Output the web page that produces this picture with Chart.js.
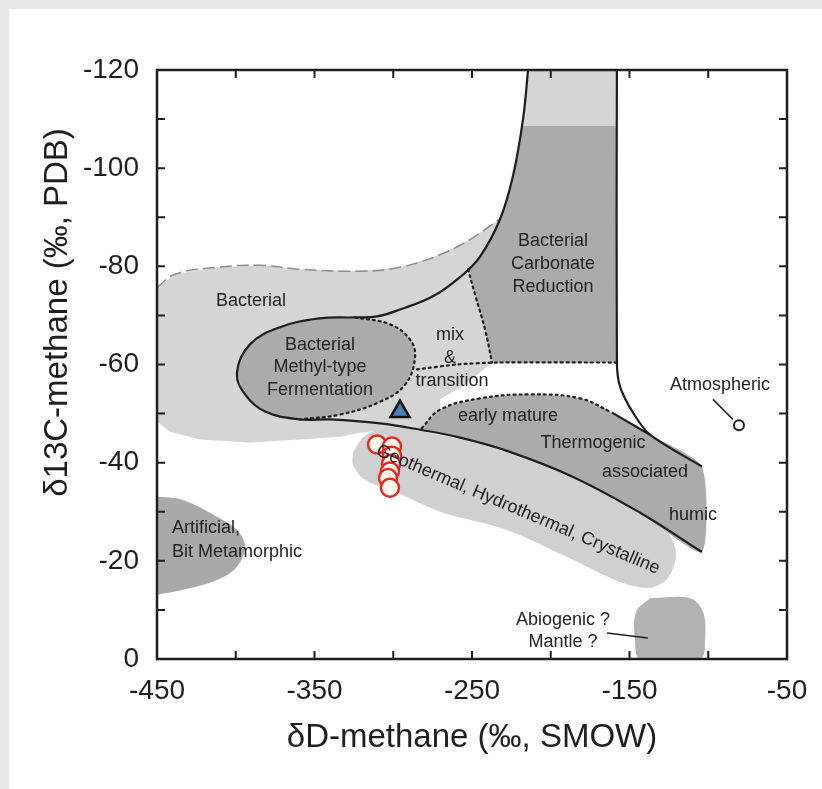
<!DOCTYPE html>
<html>
<head>
<meta charset="utf-8">
<script src="https://cdn.jsdelivr.net/npm/chart.js@4.4.1/dist/chart.umd.min.js"></script>
<style>
    html, body { margin: 0; padding: 0; background: #e4e7e6; }
    #sheet { position: absolute; left: 9px; top: 9px; right: 0; bottom: 0; background: #fff; }
    #wrap { position: absolute; left: 0; top: 0; width: 822px; height: 789px; }
</style>
</head>
<body>
<div id="sheet"></div>
<div id="wrap"><canvas id="chart" width="822" height="789"></canvas></div>
<script>
/* global Chart */

const FONT = "'Liberation Sans', Arial, Helvetica, sans-serif";
const INK = '#1e1e1e';
const LIGHT = '#d5d5d5';
const DARK = '#ababab';

// axis ticks
const X_TICKS = [-450, -350, -250, -150, -50];
const Y_TICKS = [-120, -100, -80, -60, -40, -20, 0];
const Y_TITLE = 'δ13C-methane (‰, PDB)';
const X_TITLE = 'δD-methane (‰, SMOW)';

// shaded fields, [δD, δ13C]
const bacterialArea = [[-450,-75.7],[-438.6,-78.4],[-411.9,-79.8],[-384.6,-80.2],[-359,-79.4],[-321,-79],[-295.7,-79.8],
    [-270,-82.4],[-251,-85.5],[-233,-89.5],[-228,-94],[-224,-98.4],[-220.5,-104],[-217.6,-110],[-216,-115],[-214.4,-120],
    [-158,-120],[-158,-60.4],[-237.3,-60.4],[-254,-56],[-270.3,-52.9],[-270.3,-50.8],[-283,-46.7],[-308.4,-46.5],
    [-321,-46.1],[-333.8,-45.3],[-359.2,-44.7],[-390.9,-44.1],[-422.7,-44.7],[-441.7,-46.3],[-450,-48.4]];
const carbonateArea = [[-218.3,-108.6],[-158,-108.6],[-158,-60.4],[-237.3,-60.4],[-241.7,-67.1],[-248.1,-74.3],
    [-252.5,-79.4],[-244.9,-82],[-238,-86],[-232.2,-89.6],[-224,-98.4],[-218.3,-108.6]];
const methylArea = [[-399.2,-58.4],[-391,-64.1],[-371.9,-67.6],[-346.5,-69.4],[-324.3,-69.6],[-302.1,-68.2],
    [-289.4,-65.1],[-286.2,-61.4],[-292.5,-55.9],[-308.4,-52.4],[-333.8,-49.8],[-359.2,-48.8],[-381.4,-50.4],
    [-394.1,-53.9],[-399.2,-58.4]];
const thermoArea = [[-283,-46.7],[-270.3,-50.8],[-244.9,-53.1],[-213.2,-53.9],[-181.4,-53.1],[-161.1,-50.2],
    [-137,-45.7],[-104,-39.2],[-104,-21.8],[-143.3,-29.8],[-185.9,-37.1],[-227.8,-42.4],[-257.6,-45.1],[-283,-46.7]];
const geoArea = [[-325.6,-42],[-318,-45.5],[-300,-47.3],[-283,-46.4],[-257.6,-44.8],[-227.8,-42.1],[-185.9,-36.8],
    [-143.3,-29.5],[-125.6,-25.7],[-120.5,-21.2],[-125.6,-16.5],[-137,-14.5],[-156,-15.7],[-185.9,-20.2],
    [-227.8,-26.3],[-270.3,-30],[-297.6,-33.9],[-317.9,-36.5],[-325.6,-39.6],[-325.6,-42]];
const artificialArea = [[-450,-33.1],[-433.5,-32.4],[-411.9,-29],[-399.2,-26.3],[-394.1,-22.9],[-399.2,-18.8],
    [-411.9,-16.1],[-433.5,-14.1],[-450,-13.1]];
const mantleArea = [[-137,-12.4],[-111.6,-12.4],[-103.3,-9.6],[-102,-3.9],[-105.2,0],[-143.3,0],[-146.5,-3.9],
    [-145.9,-9.6],[-137,-12.4]];

// boundary lines
const bacterialEdge = [[-450,-75.7],[-438.6,-78.4],[-411.9,-79.8],[-384.6,-80.2],[-359,-79.4],[-321,-79],
    [-295.7,-79.8],[-270,-82.4],[-251,-85.5],[-233,-89.5]];
const mainCurve = [[-104,-21.8],[-143.3,-29.8],[-185.9,-37.1],[-227.8,-42.4],[-257.6,-45.1],[-283,-46.7],
    [-308.4,-48],[-340.2,-48.8],[-359.2,-48.8],[-381.4,-50.4],[-394.1,-53.9],[-399.2,-58.4],[-391,-64.1],
    [-371.9,-67.6],[-346.5,-69.4],[-324.3,-69.6],[-310.3,-69.8],[-295.7,-71.2],[-274.8,-73.9],[-257.6,-77.8],
    [-244.9,-82],[-232.2,-89.6],[-224,-98.4],[-217.6,-110],[-214.4,-120]];
const upperCurve = [[-158,-120],[-158,-60.4],[-156,-55.5],[-147.8,-50.2],[-137,-45.7],[-104,-39.2]];
const thermoEdge = [[-161.1,-50.2],[-137,-45.7]];
const methylDots = [[-324.3,-69.6],[-302.1,-68.2],[-289.4,-65.1],[-286.2,-61.4],[-292.5,-55.9],[-308.4,-52.4],
    [-333.8,-49.8],[-359.2,-48.8]];
const mixDots = [[-284.9,-59],[-260,-60],[-234,-60.4],[-158,-60.4]];
const carbonateDots = [[-252.5,-79.4],[-248.1,-74.3],[-241.7,-67.1],[-237.3,-60.4]];
const matureDots = [[-282,-47],[-270.3,-50.8],[-244.9,-53.1],[-213.2,-53.9],[-181.4,-53.1],[-161.1,-50.2]];
const atmosLeader = [[-97,-52.9],[-84.3,-48.8]];
const mantleLeader = [[-164.3,-5.3],[-138.3,-4.3]];

// measured gas
const sampleD = [-310.3, -300.8, -300.8, -301.4, -302.1, -303.3, -302.1];
const sampleC = [-43.7, -43.3, -41.4, -39.8, -38.2, -36.9, -34.9];
const triangleD = [-295.7];
const triangleC = [-50.4];
const atmosD = [-80.5];
const atmosC = [-47.6];

const LABELS = [
    { text: 'Bacterial', x: -390.3, y: -72.9 },
    { text: 'Bacterial', x: -346.5, y: -63.9 },
    { text: 'Methyl-type', x: -346.5, y: -59.4 },
    { text: 'Fermentation', x: -346.5, y: -54.9 },
    { text: 'mix', x: -264, y: -66.1 },
    { text: '&', x: -264, y: -61.4 },
    { text: 'transition', x: -262.7, y: -56.7 },
    { text: 'Bacterial', x: -198.6, y: -85.1 },
    { text: 'Carbonate', x: -198.6, y: -80.4 },
    { text: 'Reduction', x: -198.6, y: -75.7 },
    { text: 'early mature', x: -227.1, y: -49.4 },
    { text: 'Thermogenic', x: -173.2, y: -44.1 },
    { text: 'associated', x: -140.2, y: -38 },
    { text: 'humic', x: -109.7, y: -29.4 },
    { text: 'Geothermal, Hydrothermal, Crystalline', x: -220.8, y: -30.4, rot: 23 },
    { text: 'Artificial,', x: -440.5, y: -26.7, align: 'left' },
    { text: 'Bit Metamorphic', x: -440.5, y: -21.8, align: 'left' },
    { text: 'Atmospheric', x: -92.5, y: -55.9 },
    { text: 'Abiogenic ?', x: -192.2, y: -8 },
    { text: 'Mantle ?', x: -192.2, y: -3.5 },
];

const pts = arr => arr.map(([x, y]) => ({ x, y }));
const zip = (xs, ys) => xs.map((x, i) => ({ x, y: ys[i] }));

const area = (data, color, tension = 0) => ({
    data: pts(data), showLine: true, fill: 'shape', backgroundColor: color,
    borderWidth: 0, pointRadius: 0, tension,
});
const line = (data, opts = {}) => ({
    data: pts(data), showLine: true, fill: false, borderColor: INK, borderWidth: 2.2,
    pointRadius: 0, tension: 0.4, ...opts,
});
const DOTS = { borderDash: [2, 4], borderWidth: 2.2, borderCapStyle: 'round' };

const datasets = [
    area(bacterialArea, LIGHT),
    area(geoArea, '#d0d0d0', 0.3),
    area(carbonateArea, DARK),
    area(methylArea, DARK, 0.3),
    area(thermoArea, DARK, 0.2),
    area(artificialArea, '#a9a9a9', 0.35),
    area(mantleArea, '#b2b2b2', 0.35),
    line(bacterialEdge, { borderColor: '#8c8c8c', borderWidth: 1.5, borderDash: [12, 5] }),
    line(mainCurve),
    line(upperCurve, { tension: 0.3 }),
    line(thermoEdge, { tension: 0 }),
    line(methylDots, DOTS),
    line(mixDots, { ...DOTS, tension: 0.2 }),
    line(carbonateDots, DOTS),
    line(matureDots, DOTS),
    line(atmosLeader, { borderWidth: 1.5, tension: 0 }),
    line(mantleLeader, { borderWidth: 1.5, tension: 0 }),
    { data: zip(triangleD, triangleC), pointStyle: 'triangle', pointRadius: 11,
      backgroundColor: '#4d7db5', borderColor: '#111', borderWidth: 2.5 },
    { data: zip(sampleD, sampleC), pointRadius: 9, backgroundColor: '#fff9ea',
      borderColor: '#e02a2a', borderWidth: 2.5 },
    { data: zip(atmosD, atmosC), pointRadius: 5, backgroundColor: '#fff',
      borderColor: INK, borderWidth: 2 },
];
datasets.forEach((d, i) => { d.order = datasets.length - i; });

const frameTicks = {
    id: 'frameTicks',
    afterDraw(chart) {
        const { ctx, chartArea: a, scales: { x, y } } = chart;
        ctx.save();
        ctx.strokeStyle = INK;
        ctx.lineWidth = 2.5;
        ctx.strokeRect(a.left, a.top, a.right - a.left, a.bottom - a.top);
        ctx.lineWidth = 2;
        ctx.beginPath();
        x.ticks.forEach(t => {
            const p = x.getPixelForValue(t.value);
            ctx.moveTo(p, a.bottom); ctx.lineTo(p, a.bottom - 8);
            ctx.moveTo(p, a.top); ctx.lineTo(p, a.top + 8);
        });
        y.ticks.forEach(t => {
            const p = y.getPixelForValue(t.value);
            ctx.moveTo(a.left, p); ctx.lineTo(a.left + 8, p);
            ctx.moveTo(a.right, p); ctx.lineTo(a.right - 8, p);
        });
        ctx.stroke();

        // y title sits a little above the axis centre in the original
        ctx.translate(58, (a.top + a.bottom) / 2 - 52);
        ctx.rotate(-Math.PI / 2);
        ctx.font = `33px ${FONT}`;
        ctx.fillStyle = INK;
        ctx.textAlign = 'center';
        ctx.textBaseline = 'middle';
        ctx.fillText(Y_TITLE, 0, 0);
        ctx.restore();
    }
};

const fieldLabels = {
    id: 'fieldLabels',
    afterDatasetsDraw(chart) {
        const { ctx, scales: { x, y } } = chart;
        ctx.save();
        ctx.font = `18px ${FONT}`;
        ctx.fillStyle = '#222';
        ctx.textBaseline = 'middle';
        LABELS.forEach(l => {
            ctx.save();
            ctx.translate(x.getPixelForValue(l.x), y.getPixelForValue(l.y));
            if (l.rot) ctx.rotate(l.rot * Math.PI / 180);
            ctx.textAlign = l.align || 'center';
            ctx.fillText(l.text, 0, 0);
            ctx.restore();
        });
        ctx.restore();
    }
};

new Chart(document.getElementById('chart'), {
    type: 'scatter',
    data: { datasets },
    options: {
        responsive: false,
        animation: false,
        layout: { padding: { top: 70, right: 35, bottom: 0, left: 0 } },
        plugins: { legend: { display: false }, tooltip: { enabled: false } },
        scales: {
            x: {
                min: -450, max: -50,
                grid: { display: false },
                border: { display: false },
                ticks: {
                    stepSize: 50, padding: 7, color: INK, font: { family: FONT, size: 28 },
                    autoSkip: false, maxRotation: 0,
                    callback: v => X_TICKS.includes(v) ? String(v) : '',
                },
                title: { display: true, text: X_TITLE, color: INK,
                    font: { family: FONT, size: 33 }, padding: { top: 0, bottom: 31 } },
                afterFit: s => { s.height = 130; },
            },
            y: {
                min: -120, max: 0, reverse: true,
                grid: { display: false },
                border: { display: false },
                ticks: {
                    stepSize: 10, padding: 10, color: INK, font: { family: FONT, size: 28 },
                    autoSkip: false,
                    callback: v => Y_TICKS.includes(v) ? String(v) : '',
                },
                afterFit: s => { s.width = 157; },
            },
        },
    },
    plugins: [fieldLabels, frameTicks],
});
</script>
</body>
</html>
